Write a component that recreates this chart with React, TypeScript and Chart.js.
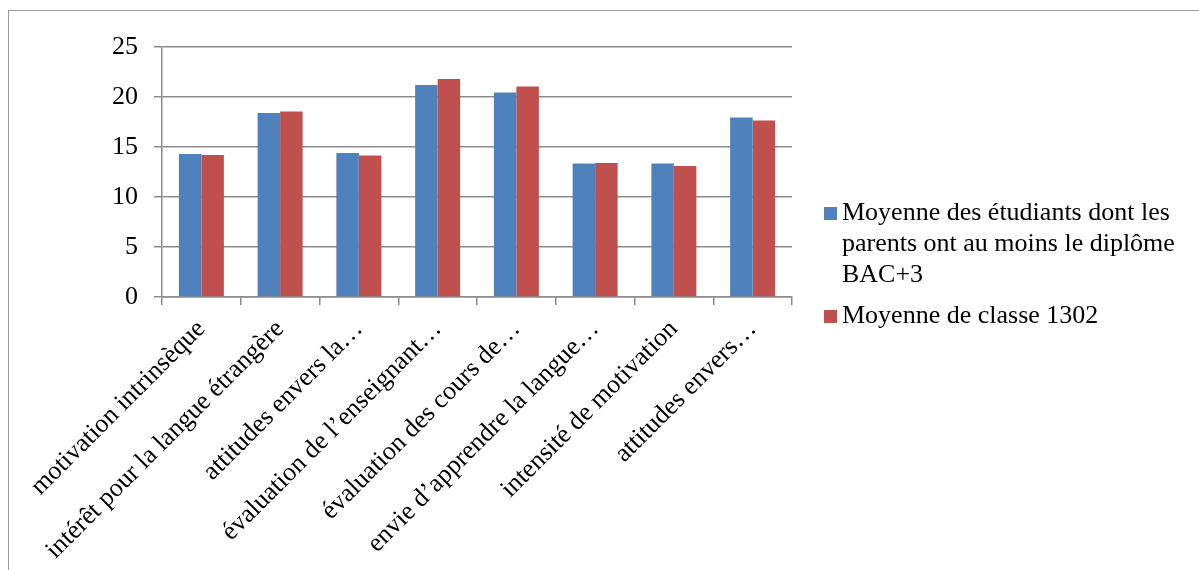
import React, { useEffect, useRef } from "react";
import { Chart, registerables } from "chart.js";
Chart.register(...registerables);

const categories = [
  "motivation intrinsèque",
  "intérêt pour la langue étrangère",
  "attitudes envers la…",
  "évaluation de l’enseignant…",
  "évaluation des cours de…",
  "envie d’apprendre la langue…",
  "intensité de motivation",
  "attitudes envers…",
];
const seriesBac3 = [14.3, 18.4, 14.4, 21.2, 20.45, 13.35, 13.35, 17.95];
const seriesClasse = [14.2, 18.55, 14.15, 21.8, 21.05, 13.4, 13.1, 17.65];
const legendBac3 = ["Moyenne des étudiants dont les", "parents ont au moins le diplôme", "BAC+3"];
const legendClasse = ["Moyenne de classe 1302"];
const yMin = 0;
const yMax = 25;
const yStep = 5;

const FONT = '"Liberation Serif", "Times New Roman", serif';
const BLUE = "#4F81BD";
const RED = "#C0504D";
const GRID = "#8c8c8c";

export default function App() {
  const ref = useRef<HTMLCanvasElement | null>(null);
  useEffect(() => {
    if (!ref.current) return;
    const legendLines = [legendBac3, legendClasse];
    const legendPlugin = {
      id: "customLegend",
      afterDraw(chart: any) {
        const ctx = chart.ctx;
        ctx.save();
        ctx.font = `26px ${FONT}`;
        ctx.textBaseline = "alphabetic";
        ctx.textAlign = "left";
        const starts = [220, 323];
        chart.data.datasets.forEach((ds: any, i: number) => {
          const base = starts[i];
          ctx.fillStyle = ds.backgroundColor;
          ctx.fillRect(824, base - 13, 13, 13);
          ctx.fillStyle = "#000";
          legendLines[i].forEach((line: string, j: number) => {
            ctx.fillText(line, 842, base + j * 31);
          });
        });
        ctx.restore();
      },
    };
    const chart = new Chart(ref.current, {
      type: "bar",
      data: {
        labels: categories,
        datasets: [
          {
            label: legendBac3.join(" "),
            data: seriesBac3,
            backgroundColor: BLUE,
            borderWidth: 0,
            categoryPercentage: 0.5714,
            barPercentage: 1,
          },
          {
            label: legendClasse.join(" "),
            data: seriesClasse,
            backgroundColor: RED,
            borderWidth: 0,
            categoryPercentage: 0.5714,
            barPercentage: 1,
          },
        ],
      },
      options: {
        responsive: false,
        animation: false,
        devicePixelRatio: 1,
        layout: { padding: { left: 0, top: 47, right: 407, bottom: 0 } },
        plugins: { legend: { display: false }, tooltip: { enabled: false } },
        scales: {
          x: {
            offset: true,
            grid: {
              offset: true,
              drawOnChartArea: false,
              drawTicks: true,
              tickLength: 8,
              color: GRID,
              lineWidth: 1.5,
            },
            border: { display: true, color: GRID, width: 1.5 },
            ticks: {
              autoSkip: false,
              maxRotation: 45,
              minRotation: 45,
              padding: 9,
              color: "#000",
              font: { family: FONT, size: 26 },
            },
            afterFit: (s: any) => {
              s.height = 273;
            },
          },
          y: {
            min: yMin,
            max: yMax,
            ticks: {
              stepSize: yStep,
              padding: 16,
              color: "#000",
              font: { family: FONT, size: 26 },
            },
            grid: {
              drawTicks: true,
              tickLength: 8,
              color: GRID,
              lineWidth: 1.5,
            },
            border: { display: true, color: GRID, width: 1.5 },
            afterFit: (s: any) => {
              s.width = 162;
            },
          },
        },
      },
      plugins: [legendPlugin],
    });
    return () => chart.destroy();
  }, []);
  return (
    <div style={{ position: "fixed", left: 0, top: 0, width: 1199, height: 570, overflow: "hidden", background: "#fff" }}>
      <div
        style={{
          position: "absolute",
          left: 8,
          top: 10,
          width: 1300,
          height: 700,
          borderTop: "1.5px solid #999",
          borderLeft: "1.5px solid #999",
        }}
      />
      <canvas ref={ref} width={1199} height={570} style={{ position: "absolute", left: 0, top: 0, width: 1199, height: 570 }} />
    </div>
  );
}
